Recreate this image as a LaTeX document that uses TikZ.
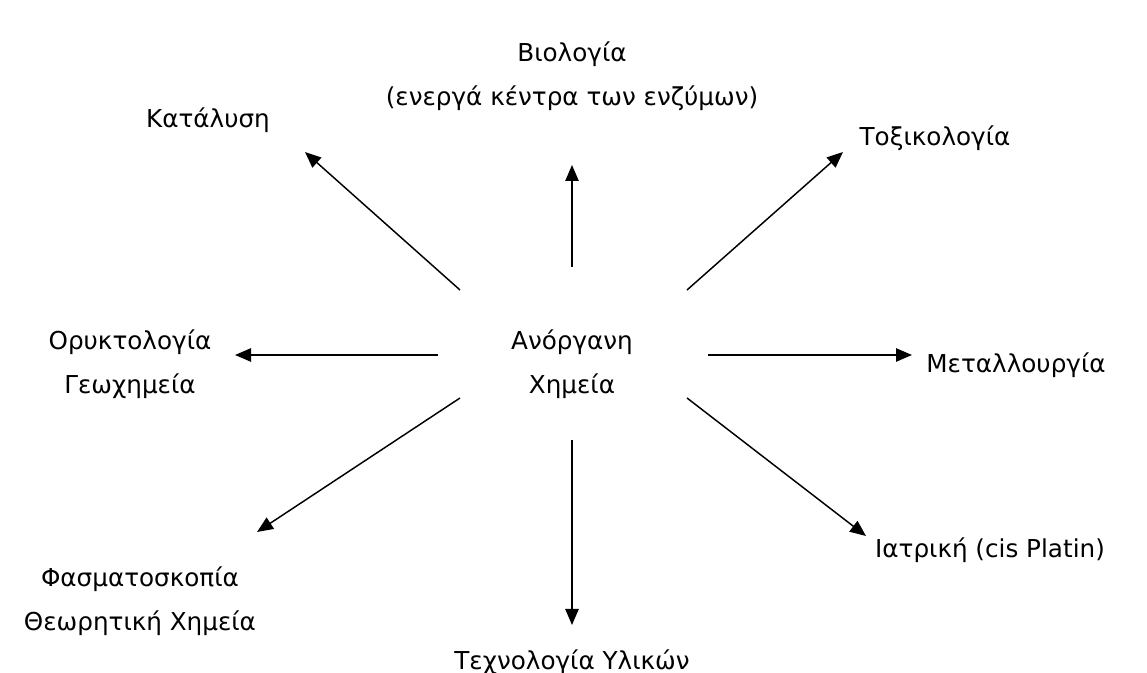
\documentclass[tikz,border=0pt]{standalone}
\usepackage{fontspec}
\setmainfont{DejaVu Sans}
\usetikzlibrary{arrows.meta}
\begin{document}
\begin{tikzpicture}[x=0.75pt,y=-0.75pt,
  lbl/.style={font=\fontsize{18.5}{33}\selectfont, align=center, inner sep=0pt},
  arr/.style={line width=1.1pt, -{Triangle[length=12pt,width=10pt]}}]
\useasboundingbox (0,0) rectangle (1147,673);
\node[lbl] (bio) at (572,76) {Βιολογία\\(ενεργά κέντρα των ενζύμων)};
\node[lbl] (kat) at (208,120) {Κατάλυση};
\node[lbl] (tox) at (935,138) {Τοξικολογία};
\node[lbl] (ory) at (130,364) {Ορυκτολογία\\Γεωχημεία};
\node[lbl] (ano) at (572,364) {Ανόργανη\\Χημεία};
\node[lbl] (met) at (1016,365) {Μεταλλουργία};
\node[lbl] (fas) at (140,601) {Φασματοσκοπία\\Θεωρητική Χημεία};
\node[lbl] (iat) at (990,550) {Ιατρική (cis Platin)};
\node[lbl] (tex) at (572,662) {Τεχνολογία Υλικών};
\coordinate (sU) at (572,267); \coordinate (eU) at (572,165);
\coordinate (sUL) at (460,290); \coordinate (eUL) at (305,152);
\coordinate (sUR) at (687,290); \coordinate (eUR) at (843,152);
\coordinate (sL) at (438,355); \coordinate (eL) at (235,355);
\coordinate (sR) at (708,355); \coordinate (eR) at (912,355);
\coordinate (sDL) at (460,398); \coordinate (eDL) at (257,532);
\coordinate (sDR) at (687,398); \coordinate (eDR) at (866,536);
\coordinate (sD) at (572,440); \coordinate (eD) at (572,625);
\foreach \a/\b in {sU/eU,sUL/eUL,sUR/eUR,sL/eL,sR/eR,sDL/eDL,sDR/eDR,sD/eD}
  \draw[arr] (\a) -- (\b);
\end{tikzpicture}
\end{document}
